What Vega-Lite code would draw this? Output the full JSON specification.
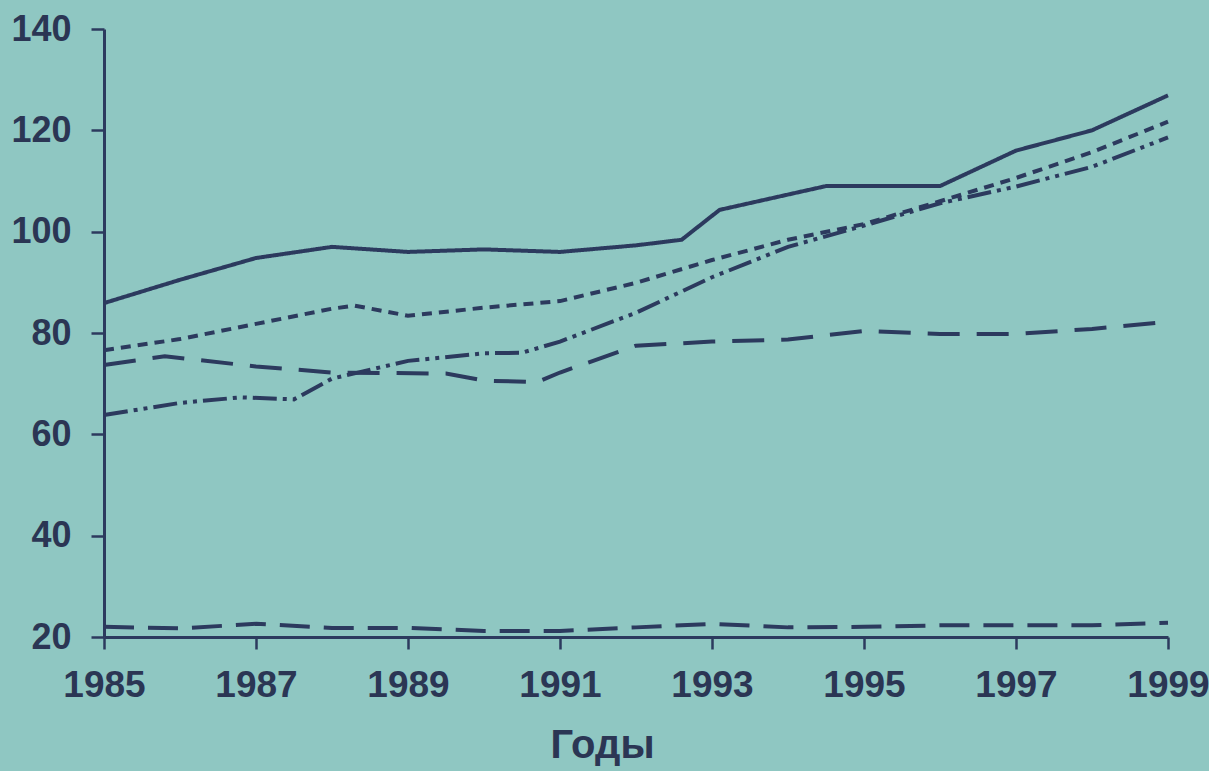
{
  "$schema": "https://vega.github.io/schema/vega-lite/v6.json",
  "autosize": "none",
  "width": 1064,
  "height": 608,
  "padding": {"left": 104, "top": 29, "right": 41, "bottom": 134},
  "background": "#8fc7c2",
  "config": {
    "view": {"stroke": null},
    "font": "Liberation Sans, Arial, sans-serif",
    "axis": {
      "grid": false,
      "domainColor": "#2c3a5e",
      "domainWidth": 3,
      "tickColor": "#2c3a5e",
      "tickWidth": 2.5,
      "labelColor": "#2b3654",
      "labelFontWeight": "bold",
      "labelOverlap": false,
      "labelFlush": false,
      "labelBound": false,
      "titleColor": "#2b3654",
      "titleFontWeight": "bold"
    }
  },
  "data": {
    "values": [
      {"series": "s1", "year": 1985, "value": 85.9},
      {"series": "s1", "year": 1986, "value": 90.5},
      {"series": "s1", "year": 1987, "value": 94.8},
      {"series": "s1", "year": 1988, "value": 97.0},
      {"series": "s1", "year": 1989, "value": 96.0},
      {"series": "s1", "year": 1990, "value": 96.5},
      {"series": "s1", "year": 1991, "value": 96.0},
      {"series": "s1", "year": 1992, "value": 97.3},
      {"series": "s1", "year": 1992.6, "value": 98.4},
      {"series": "s1", "year": 1993.1, "value": 104.3},
      {"series": "s1", "year": 1994.5, "value": 109.0},
      {"series": "s1", "year": 1996, "value": 109.0},
      {"series": "s1", "year": 1997, "value": 116.0},
      {"series": "s1", "year": 1998, "value": 120.0},
      {"series": "s1", "year": 1999, "value": 126.9},

      {"series": "s2", "year": 1985, "value": 76.6},
      {"series": "s2", "year": 1986, "value": 78.8},
      {"series": "s2", "year": 1987, "value": 81.8},
      {"series": "s2", "year": 1988, "value": 84.8},
      {"series": "s2", "year": 1988.3, "value": 85.4},
      {"series": "s2", "year": 1989, "value": 83.4},
      {"series": "s2", "year": 1990, "value": 85.0},
      {"series": "s2", "year": 1991, "value": 86.3},
      {"series": "s2", "year": 1992, "value": 89.9},
      {"series": "s2", "year": 1993, "value": 94.4},
      {"series": "s2", "year": 1994, "value": 98.4},
      {"series": "s2", "year": 1995, "value": 101.5},
      {"series": "s2", "year": 1996, "value": 106.0},
      {"series": "s2", "year": 1997, "value": 110.6},
      {"series": "s2", "year": 1998, "value": 115.7},
      {"series": "s2", "year": 1999, "value": 121.7},

      {"series": "s3", "year": 1985, "value": 63.8},
      {"series": "s3", "year": 1986, "value": 66.2},
      {"series": "s3", "year": 1986.8, "value": 67.3},
      {"series": "s3", "year": 1987.5, "value": 66.9},
      {"series": "s3", "year": 1988, "value": 71.0},
      {"series": "s3", "year": 1989, "value": 74.5},
      {"series": "s3", "year": 1990, "value": 76.0},
      {"series": "s3", "year": 1990.5, "value": 76.1},
      {"series": "s3", "year": 1991, "value": 78.3},
      {"series": "s3", "year": 1992, "value": 84.0},
      {"series": "s3", "year": 1993, "value": 91.0},
      {"series": "s3", "year": 1994, "value": 97.0},
      {"series": "s3", "year": 1995, "value": 101.2},
      {"series": "s3", "year": 1996, "value": 105.6},
      {"series": "s3", "year": 1997, "value": 108.9},
      {"series": "s3", "year": 1998, "value": 112.8},
      {"series": "s3", "year": 1999, "value": 118.6},

      {"series": "s4", "year": 1985, "value": 73.7},
      {"series": "s4", "year": 1985.8, "value": 75.4},
      {"series": "s4", "year": 1987, "value": 73.4},
      {"series": "s4", "year": 1988, "value": 72.2},
      {"series": "s4", "year": 1989.5, "value": 72.0},
      {"series": "s4", "year": 1990, "value": 70.6},
      {"series": "s4", "year": 1990.7, "value": 70.3},
      {"series": "s4", "year": 1991, "value": 72.2},
      {"series": "s4", "year": 1992, "value": 77.5},
      {"series": "s4", "year": 1993, "value": 78.3},
      {"series": "s4", "year": 1994, "value": 78.7},
      {"series": "s4", "year": 1995, "value": 80.4},
      {"series": "s4", "year": 1996, "value": 79.8},
      {"series": "s4", "year": 1997, "value": 79.8},
      {"series": "s4", "year": 1998, "value": 80.8},
      {"series": "s4", "year": 1999, "value": 82.2},

      {"series": "s5", "year": 1985, "value": 22.0},
      {"series": "s5", "year": 1986, "value": 21.7},
      {"series": "s5", "year": 1987, "value": 22.6},
      {"series": "s5", "year": 1988, "value": 21.8},
      {"series": "s5", "year": 1989, "value": 21.8},
      {"series": "s5", "year": 1990, "value": 21.2},
      {"series": "s5", "year": 1991, "value": 21.2},
      {"series": "s5", "year": 1992, "value": 21.9},
      {"series": "s5", "year": 1993, "value": 22.6},
      {"series": "s5", "year": 1994, "value": 21.9},
      {"series": "s5", "year": 1995, "value": 22.0},
      {"series": "s5", "year": 1996, "value": 22.3},
      {"series": "s5", "year": 1997, "value": 22.3},
      {"series": "s5", "year": 1998, "value": 22.3},
      {"series": "s5", "year": 1999, "value": 22.8}
    ]
  },
  "mark": {"type": "line", "color": "#2c3a5e", "strokeWidth": 4, "strokeCap": "butt", "clip": false},
  "encoding": {
    "x": {
      "field": "year",
      "type": "quantitative",
      "scale": {"domain": [1985, 1999], "nice": false, "zero": false},
      "axis": {
        "values": [1985, 1987, 1989, 1991, 1993, 1995, 1997, 1999],
        "format": "d",
        "title": "Годы",
        "labelFontSize": 37,
        "labelPadding": 18,
        "tickSize": 12,
        "titleFontSize": 40,
        "titlePadding": 22,
        "titleX": 498
      }
    },
    "y": {
      "field": "value",
      "type": "quantitative",
      "scale": {"domain": [20, 140], "nice": false, "zero": false},
      "axis": {
        "values": [20, 40, 60, 80, 100, 120, 140],
        "title": null,
        "labelFontSize": 36,
        "labelPadding": 20,
        "tickSize": 13
      }
    },
    "detail": {"field": "series", "type": "nominal"},
    "strokeDash": {
      "field": "series",
      "type": "nominal",
      "scale": {
        "domain": ["s1", "s2", "s3", "s4", "s5"],
        "range": [[1, 0], [10, 7], [24, 6, 4, 6, 4, 6], [32, 17], [30, 14]]
      },
      "legend": null
    }
  }
}
